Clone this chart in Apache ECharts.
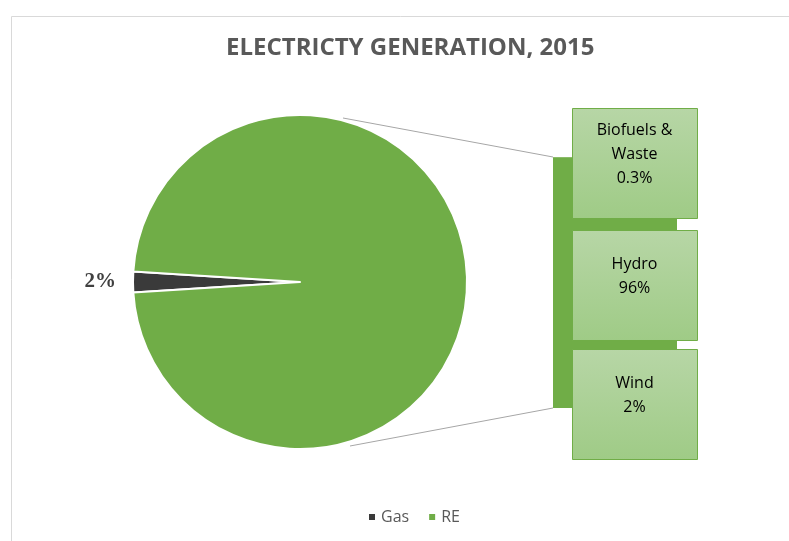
<!DOCTYPE html>
<html>
<head>
<meta charset="utf-8">
<script src="https://cdn.jsdelivr.net/npm/echarts@6/dist/echarts.min.js"></script>
<style>html,body{margin:0;padding:0;background:#fff}#c{width:789px;height:541px}</style>
</head>
<body>
<div id="c"></div>
<script>
// ---- data ----
const titleText = 'ELECTRICTY GENERATION, 2015';
const pieNames = ['Gas', 'RE'];
const pieValues = [2, 98];
const pieLabels = ['2%', ''];
const barNames = ['Biofuels & Waste', 'Hydro', 'Wind'];
const barValues = [0.3, 96, 2];
const barLabelText = ['Biofuels &\nWaste\n0.3%', 'Hydro\n96%', 'Wind\n2%'];

// ---- layout ----
const green = '#70AD47', dark = '#3A3A3A';
const cx = 300, cy = 282, R = 167;
const barLeft = 553, barRight = 677, barTop = 157, barBottom = 408;
const boxX = 572, boxW = 125, boxH = 110;
const boxTops = [108, 230, 349];

const chart = echarts.init(document.getElementById('c'));
const total = barValues.reduce((a, b) => a + b, 0);
// stack from bottom: Wind, Hydro, Biofuels
const order = [2, 1, 0];
const barSeries = order.map(i => ({
  type: 'bar', name: barNames[i], stack: 's', xAxisIndex: 0, yAxisIndex: 0,
  data: [barValues[i]], barWidth: barRight - barLeft,
  itemStyle: { color: green }, silent: true, legendHoverLink: false
}));

const gasDeg = pieValues[0] / (pieValues[0] + pieValues[1]) * 360;
const startAngle = 180 + gasDeg / 2;

const graphics = [
  { type: 'rect', left: 9, top: 14, shape: { width: 900, height: 700 }, style: { fill: 'none', stroke: '#D9D9D9', lineWidth: 1 }, z: -10 },
  { type: 'line', shape: { x1: 343, y1: 118, x2: barLeft, y2: barTop }, style: { stroke: '#A6A6A6', lineWidth: 1 } },
  { type: 'line', shape: { x1: 350, y1: 446, x2: barLeft, y2: barBottom }, style: { stroke: '#A6A6A6', lineWidth: 1 } }
];
barLabelText.forEach((t, i) => {
  graphics.push({
    type: 'rect', z: 10,
    shape: { x: boxX + 0.5, y: boxTops[i] + 0.5, width: boxW, height: boxH },
    style: {
      fill: new echarts.graphic.LinearGradient(0, 0, 0, 1, [{ offset: 0, color: '#B7D6A6' }, { offset: 1, color: '#9FCB86' }]),
      stroke: green, lineWidth: 1
    }
  });
  graphics.push({
    type: 'text', z: 11,
    x: boxX + boxW / 2, y: boxTops[i] + boxH / 2 - 9,
    style: { text: t, fill: '#000', font: '16px "Open Sans", sans-serif', align: 'center', verticalAlign: 'middle', lineHeight: 24 }
  });
});

chart.setOption({
  animation: false,
  title: {
    text: titleText, left: 221, top: 31,
    textStyle: { color: '#595959', fontSize: 24, fontWeight: 'bold', fontFamily: '"Open Sans", sans-serif' }
  },
  legend: {
    data: pieNames, bottom: 11, left: 362, itemWidth: 8, itemHeight: 8, icon: 'rect', itemGap: 18,
    textStyle: { color: '#595959', fontSize: 16, fontFamily: '"Open Sans", sans-serif' }
  },
  grid: { left: barLeft, top: barTop, width: barRight - barLeft, height: barBottom - barTop },
  xAxis: { type: 'category', data: ['bar'], show: false },
  yAxis: { type: 'value', min: 0, max: total, show: false },
  series: [{
    type: 'pie', center: [cx, cy], radius: R, startAngle: startAngle, clockwise: true,
    data: pieNames.map((n, i) => ({ name: n, value: pieValues[i], itemStyle: { color: i === 0 ? dark : green } })),
    itemStyle: { borderColor: '#fff', borderWidth: 2 },
    label: {
      show: true, position: 'outside', formatter: p => pieLabels[p.dataIndex],
      color: '#404040', fontSize: 21, fontWeight: 'bold', fontFamily: '"Liberation Serif", serif'
    },
    labelLine: { show: false, length: 12, length2: 0 },
    emphasis: { disabled: true }
  }].concat(barSeries),
  graphic: graphics
});
</script>
</body>
</html>
